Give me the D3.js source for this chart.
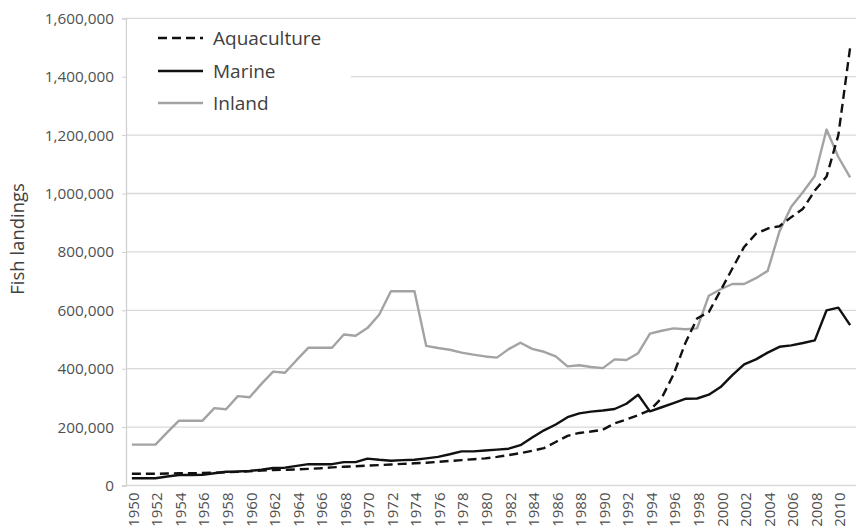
<!DOCTYPE html>
<html>
<head>
<meta charset="utf-8">
<script src="https://cdn.jsdelivr.net/npm/d3@7"></script>
<style>
  html, body { margin: 0; padding: 0; background: #fff; }
  svg { display: block; font-family: "Open Sans", "Liberation Sans", sans-serif; }
</style>
</head>
<body>
<svg id="chart" width="857" height="531"></svg>
<script>
const years = d3.range(1950, 2012);
const aquaculture = [40000, 40000, 40000, 41000, 42000, 42000, 43000, 44000, 45000, 47000,
  49000, 51000, 53000, 54000, 55000, 57000, 59000, 62000, 64000, 66000,
  68000, 70000, 72000, 74000, 76000, 78000, 81000, 84000, 87000, 90000,
  93000, 98000, 104000, 111000, 119000, 128000, 149000, 170000, 180000, 185000,
  191000, 213000, 226000, 241000, 258000, 300000, 380000, 487000, 572000, 594000,
  668000, 743000, 817000, 862000, 880000, 888000, 919000, 948000, 1010000, 1058000,
  1200000, 1500000];
const marine = [25000, 25000, 25000, 31000, 36000, 36000, 37000, 42000, 47000, 48000,
  50000, 54000, 60000, 61000, 67000, 73000, 73000, 73000, 80000, 80000,
  92000, 88000, 85000, 87000, 88000, 93000, 98000, 107000, 117000, 117000,
  120000, 123000, 126000, 138000, 164000, 189000, 209000, 234000, 247000, 253000,
  257000, 262000, 280000, 311000, 254000, 268000, 282000, 297000, 298000, 311000,
  337000, 378000, 415000, 432000, 455000, 475000, 480000, 488000, 497000, 600000,
  609000, 549000];
const inland = [140000, 140000, 140000, 182000, 222000, 222000, 222000, 265000, 261000, 306000,
  302000, 348000, 390000, 386000, 430000, 472000, 472000, 472000, 517000, 513000,
  539000, 585000, 665000, 665000, 665000, 478000, 471000, 465000, 455000, 448000,
  442000, 438000, 467000, 489000, 468000, 458000, 442000, 408000, 412000, 406000,
  402000, 432000, 430000, 453000, 520000, 530000, 538000, 535000, 538000, 650000,
  672000, 690000, 690000, 710000, 735000, 870000, 955000, 1005000, 1060000, 1219000,
  1125000, 1055000];
const yTicks = [0, 200000, 400000, 600000, 800000, 1000000, 1200000, 1400000, 1600000];
const xTickLabels = years.filter(y => (y - 1950) % 2 === 0);
const seriesNames = ["Aquaculture", "Marine", "Inland"];

const svg = d3.select("#chart");
const pLeft = 126, pRight = 856, pTop = 18.3, pBottom = 485.5;

const x = d3.scalePoint().domain(years).range([pLeft, pRight]).padding(0.5);
const y = d3.scaleLinear().domain([0, 1600000]).range([pBottom, pTop]);
const fmt = d3.format(",");

// gridlines
svg.append("g").selectAll("line").data(yTicks).join("line")
  .attr("x1", pLeft).attr("x2", pRight)
  .attr("y1", d => y(d)).attr("y2", d => y(d))
  .attr("stroke", "#d9d9d9").attr("stroke-width", 1.3);

// y axis
const yAxis = svg.append("g").attr("transform", `translate(${pLeft},0)`)
  .call(d3.axisLeft(y).tickValues(yTicks).tickFormat(fmt).tickSize(4).tickPadding(8));
yAxis.select(".domain").attr("stroke", "#d0d0d0").attr("stroke-width", 1.3);
yAxis.selectAll(".tick line").attr("stroke", "#d0d0d0");
yAxis.selectAll("text").attr("font-size", 15.3).attr("fill", "#505050")
  .attr("font-family", "'Open Sans', sans-serif");

// x axis
const xAxis = svg.append("g").attr("transform", `translate(0,${pBottom})`)
  .call(d3.axisBottom(x).tickValues(xTickLabels).tickSize(0).tickPadding(0));
xAxis.select(".domain").remove();
xAxis.selectAll("text")
  .attr("transform", "rotate(-90)")
  .attr("text-anchor", "end")
  .attr("x", -7).attr("y", 1).attr("dy", "0.36em")
  .attr("font-size", 15).attr("fill", "#505050")
  .attr("font-family", "'Open Sans', sans-serif");

// axis title
svg.append("text")
  .attr("transform", `translate(24,${(pTop + pBottom) / 2 - 13}) rotate(-90)`)
  .attr("text-anchor", "middle")
  .attr("font-size", 18.5).attr("fill", "#404040")
  .text("Fish landings");

// lines
const line = d3.line().x((d, i) => x(years[i])).y(d => y(d));
svg.append("path").datum(inland).attr("d", line)
  .attr("fill", "none").attr("stroke", "#a3a3a3").attr("stroke-width", 2.4)
  .attr("stroke-linejoin", "round");
svg.append("path").datum(marine).attr("d", line)
  .attr("fill", "none").attr("stroke", "#111").attr("stroke-width", 2.4)
  .attr("stroke-linejoin", "round");
svg.append("path").datum(aquaculture).attr("d", line)
  .attr("fill", "none").attr("stroke", "#111").attr("stroke-width", 2.4)
  .attr("stroke-dasharray", "9,5").attr("stroke-linejoin", "round");

// legend
const lg = svg.append("g");
lg.append("rect").attr("x", pLeft + 1).attr("y", pTop + 2).attr("width", 224).attr("height", 106)
  .attr("fill", "#fff");
const legendItems = [
  { name: seriesNames[0], color: "#111", dash: "9,5" },
  { name: seriesNames[1], color: "#111", dash: null },
  { name: seriesNames[2], color: "#a3a3a3", dash: null }
];
const ly = [38, 71, 103];
legendItems.forEach((it, i) => {
  lg.append("line").attr("x1", 158).attr("x2", 203).attr("y1", ly[i]).attr("y2", ly[i])
    .attr("stroke", it.color).attr("stroke-width", 2.4)
    .attr("stroke-dasharray", it.dash);
  lg.append("text").attr("x", 213).attr("y", ly[i]).attr("dy", "0.35em")
    .attr("font-size", 19).attr("fill", "#404040").text(it.name);
});
</script>
</body>
</html>
